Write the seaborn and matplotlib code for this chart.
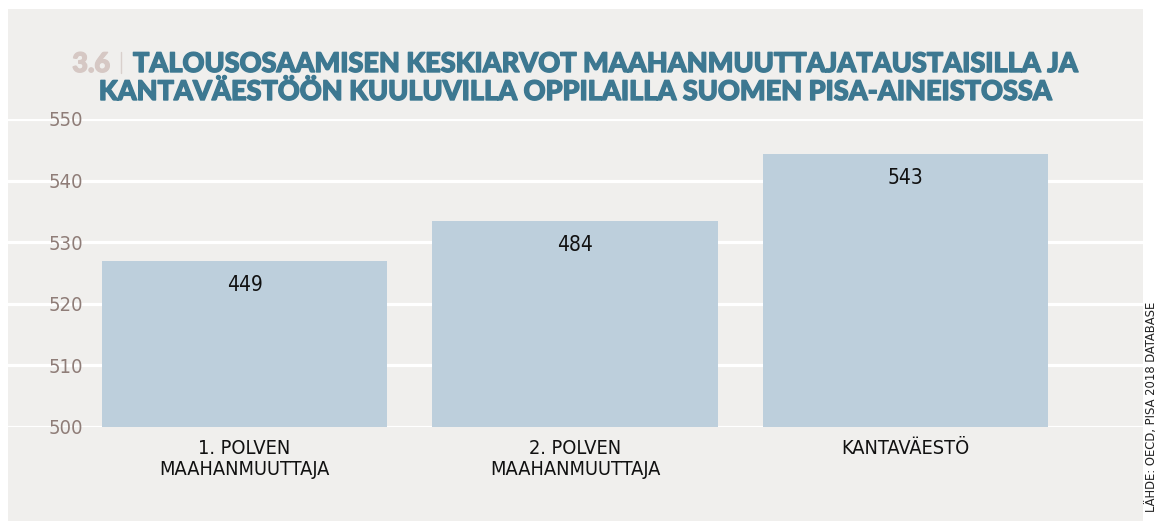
import matplotlib
matplotlib.use("Agg")
import matplotlib.pyplot as plt
from matplotlib import font_manager as fm
from matplotlib import patheffects as pe
from matplotlib.lines import Line2D
from matplotlib.patches import Rectangle
import seaborn as sns
import pandas as pd

# ---- data ----
categories = ["1. POLVEN\nMAAHANMUUTTAJA", "2. POLVEN\nMAAHANMUUTTAJA", "KANTAVÄESTÖ"]
bar_heights = [526.9, 533.4, 544.3]
value_labels = ["449", "484", "543"]
y_ticks = [500, 510, 520, 530, 540, 550]
title_number = "3.6"
title_line1 = "TALOUSOSAAMISEN KESKIARVOT MAAHANMUUTTAJATAUSTAISILLA JA"
title_line2 = "KANTAVÄESTÖÖN KUULUVILLA OPPILAILLA SUOMEN PISA-AINEISTOSSA"
source_text = "LÄHDE: OECD, PISA 2018 DATABASE"


def pick_font(cands):
    for fam, stretch, weight, key in cands:
        try:
            p = fm.FontProperties(family=fam, stretch=stretch, weight=weight)
            f = fm.findfont(p, fallback_to_default=False)
            if key.lower() in f.lower().replace(" ", ""):
                return p
        except Exception:
            pass
    return fm.FontProperties(family="DejaVu Sans")


cond = pick_font([
    ("DejaVu Sans", "condensed", "normal", "Condensed"),
    ("Liberation Sans Narrow", "condensed", "normal", "Narrow"),
    ("Roboto Condensed", "normal", "normal", "Condensed"),
])
heavy = pick_font([
    ("Lato", "normal", "black", "Black"),
    ("Lato", "normal", "heavy", "Heavy"),
    ("Roboto", "normal", "black", "Black"),
    ("Lato", "normal", "bold", "Bold"),
])

sns.set_theme(style="white")

W, H = 1161, 521
fig = plt.figure(figsize=(W / 100, H / 100), dpi=100)
fig.patch.set_facecolor("white")
bg = "#f0efed"
fig.patches.append(Rectangle((8 / W, 0), (1143 - 8) / W, (521 - 9) / H,
                             transform=fig.transFigure, facecolor=bg,
                             edgecolor="none", zorder=-10))

ax = fig.add_axes([8 / W, (H - 427) / H, (1143 - 8) / W, (427 - 119) / H])
ax.set_facecolor(bg)

df = pd.DataFrame({"cat": categories, "val": bar_heights})
sns.barplot(data=df, x="cat", y="val", color="#bdcfdc", saturation=1,
            width=0.865, edgecolor="none", ax=ax, zorder=3)

ax.set_xlim(-0.7156, 2.7186)
ax.set_ylim(500, 550)
ax.set_yticks(y_ticks)
ax.yaxis.grid(True, color="white", linewidth=2.3, zorder=0)
ax.set_axisbelow(True)
for s in ax.spines.values():
    s.set_visible(False)
ax.set_xlabel("")
ax.set_ylabel("")

ax.tick_params(axis="y", length=0, pad=-54, colors="#8f7d78")
for t in ax.get_yticklabels():
    t.set_fontproperties(cond)
    t.set_fontsize(14.5)
    t.set_color("#8f7d78")
    t.set_horizontalalignment("right")
    t.set_verticalalignment("center_baseline")

ax.tick_params(axis="x", length=0, pad=9)
ax.set_xticks(range(len(categories)))
ax.set_xticklabels(categories, fontproperties=cond, fontsize=14.3, color="#111111",
                   linespacing=1.1, va="top")

for i, (h, lab) in enumerate(zip(bar_heights, value_labels)):
    ax.annotate(lab, xy=(i, h), xytext=(0, -17), textcoords="offset points",
                ha="center", va="center", fontproperties=cond, fontsize=15,
                color="#111111", zorder=5)

# title
teal = "#3d7891"
fx = [pe.withStroke(linewidth=1.0, foreground=teal)]
fs_title = 19.5
fig.text(133 / W, (H - 72) / H, title_line1, ha="left", va="baseline",
         fontproperties=heavy, fontsize=fs_title, color=teal, path_effects=fx)
fig.text(110 / W, (H - 72) / H, title_number, ha="right", va="baseline",
         fontproperties=heavy, fontsize=fs_title, color="#d6c8c4",
         path_effects=[pe.withStroke(linewidth=1.0, foreground="#d6c8c4")])
fig.lines.append(Line2D([121 / W, 121 / W], [(H - 73) / H, (H - 52) / H],
                        transform=fig.transFigure, color="#d9d0cc", linewidth=1))
fig.text(575 / W, (H - 100) / H, title_line2, ha="center", va="baseline",
         fontproperties=heavy, fontsize=fs_title, color=teal, path_effects=fx)

fig.text(1152 / W, (H - 302) / H, source_text, rotation=90, ha="center", va="top",
         fontproperties=cond, fontsize=9.3, color="#222222")

fig.savefig("out.png", dpi=100, facecolor=fig.get_facecolor())
